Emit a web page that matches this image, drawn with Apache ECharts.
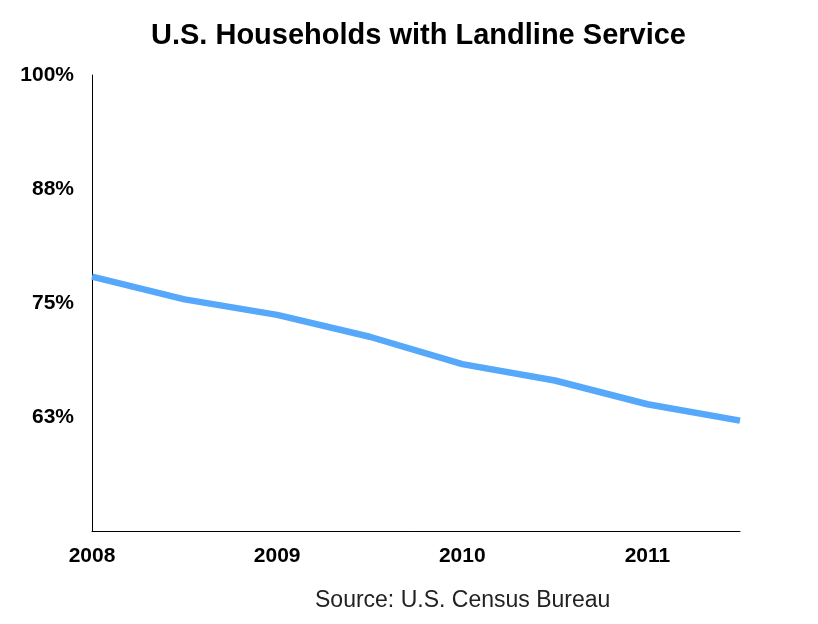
<!DOCTYPE html>
<html>
<head>
<meta charset="utf-8">
<script src="https://cdn.jsdelivr.net/npm/echarts@6/dist/echarts.min.js"></script>
<style>
  html, body { margin: 0; padding: 0; background: #fff; }
  #chart { width: 818px; height: 624px; }
</style>
</head>
<body>
<div id="chart"></div>
<script>
// Data (half-year steps)
const years = [2008, 2008.5, 2009, 2009.5, 2010, 2010.5, 2011, 2011.5];
const landlinePct = [77.9, 75.4, 73.7, 71.3, 68.3, 66.5, 63.9, 62.1];
const yTicks = [50, 62.5, 75, 87.5, 100];

const FONT = "'Liberation Sans', Arial, Helvetica, sans-serif";
const chart = echarts.init(document.getElementById('chart'));
chart.setOption({
  animation: false,
  backgroundColor: '#ffffff',
  title: {
    text: 'U.S. Households with Landline Service',
    left: 146,
    top: 16,
    textStyle: { fontFamily: FONT, fontWeight: 'bold', fontSize: 29, color: '#000' }
  },
  graphic: [{
    type: 'text',
    left: 315,
    top: 589,
    style: { text: 'Source: U.S. Census Bureau', font: "23px " + FONT, fill: '#222' }
  }],
  grid: { left: 92, right: 78, top: 75, bottom: 93, containLabel: false },
  xAxis: {
    type: 'value',
    min: 2008,
    max: 2011.5,
    interval: 1,
    axisLine: { show: true, lineStyle: { color: '#000', width: 1 } },
    axisTick: { show: false },
    splitLine: { show: false },
    axisLabel: {
      showMaxLabel: false,
      margin: 15,
      fontFamily: FONT, fontWeight: 'bold', fontSize: 21, color: '#000',
      formatter: v => (Number.isInteger(v) ? String(v) : '')
    }
  },
  yAxis: {
    type: 'value',
    min: yTicks[0],
    max: yTicks[yTicks.length - 1],
    interval: 12.5,
    axisLine: { show: true, lineStyle: { color: '#000', width: 1 } },
    axisTick: { show: false },
    splitLine: { show: false },
    axisLabel: {
      showMinLabel: false,
      margin: 18,
      fontFamily: FONT, fontWeight: 'bold', fontSize: 21, color: '#000',
      formatter: v => Math.round(v) + '%'
    }
  },
  series: [{
    type: 'line',
    data: years.map((y, i) => [y, landlinePct[i]]),
    showSymbol: false,
    lineStyle: { color: '#55a8fa', width: 6.5, cap: 'butt', join: 'round' }
  }]
});
</script>
</body>
</html>
